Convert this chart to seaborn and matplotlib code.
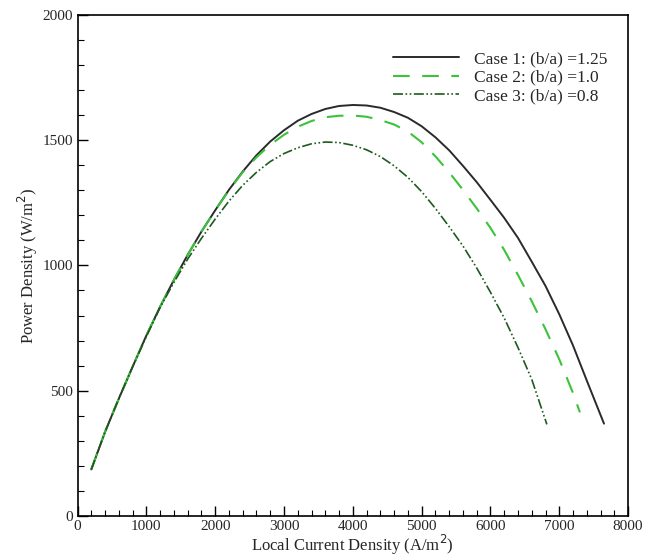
import matplotlib
matplotlib.use("Agg")
import matplotlib.pyplot as plt
import seaborn as sns
from matplotlib.ticker import MultipleLocator

sns.set_theme(style="white")
plt.rcParams['font.family'] = ['Liberation Serif', 'DejaVu Serif']

# Data
x_case1 = [200, 400, 600, 800, 1000, 1200, 1400, 1600, 1800, 2000, 2200, 2400, 2600, 2800,
           3000, 3200, 3400, 3600, 3800, 4000, 4200, 4400, 4600, 4800, 5000, 5200, 5400,
           5600, 5800, 6000, 6200, 6400, 6600, 6800, 7000, 7200, 7400, 7650]
y_case1 = [185, 335, 468, 595, 720, 835, 942, 1042, 1135, 1220, 1302, 1375, 1440, 1495,
           1540, 1578, 1605, 1625, 1637, 1641, 1639, 1630, 1613, 1590, 1556, 1512, 1460,
           1398, 1333, 1262, 1190, 1110, 1015, 918, 805, 680, 540, 368]

x_case2 = [200, 400, 600, 800, 1000, 1200, 1400, 1600, 1800, 2000, 2200, 2400, 2600, 2800,
           3000, 3200, 3400, 3600, 3800, 4000, 4200, 4400, 4600, 4800, 5000, 5200, 5400,
           5600, 5800, 6000, 6200, 6400, 6600, 6800, 7000, 7200, 7300]
y_case2 = [185, 335, 468, 595, 720, 835, 942, 1042, 1135, 1220, 1300, 1372, 1432, 1482,
           1522, 1554, 1577, 1592, 1598, 1599, 1594, 1581, 1563, 1535, 1492, 1436, 1372,
           1302, 1228, 1150, 1062, 962, 857, 745, 625, 490, 413]

x_case3 = [200, 400, 600, 800, 1000, 1200, 1400, 1600, 1800, 2000, 2200, 2400, 2600, 2800,
           3000, 3200, 3400, 3600, 3800, 4000, 4200, 4400, 4600, 4800, 5000, 5200, 5400,
           5600, 5800, 6000, 6200, 6400, 6600, 6820]
y_case3 = [185, 335, 468, 595, 716, 832, 932, 1025, 1108, 1185, 1257, 1320, 1372, 1415,
           1447, 1470, 1486, 1493, 1491, 1480, 1462, 1435, 1398, 1352, 1295, 1228, 1155,
           1078, 990, 893, 790, 672, 545, 365]

labels = ["Case 1: (b/a) =1.25", "Case 2: (b/a) =1.0", "Case 3: (b/a) =0.8"]

fig = plt.figure(figsize=(6.57, 5.60), dpi=100)
ax = fig.add_axes([0.118, 0.079, 0.838, 0.894])

sns.lineplot(x=x_case1, y=y_case1, ax=ax, color="#2a2a2a", lw=1.4, label=labels[0], sort=False)
sns.lineplot(x=x_case2, y=y_case2, ax=ax, color="#3cc23c", lw=1.5, label=labels[1], sort=False)
sns.lineplot(x=x_case3, y=y_case3, ax=ax, color="#1e5a1e", lw=1.2, label=labels[2], sort=False)
ax.lines[1].set_dashes((8, 6))
ax.lines[2].set_dashes((6, 1.5, 1, 1.5, 1, 1.5))

ax.set_xlim(0, 8000)
ax.set_ylim(0, 2000)
ax.xaxis.set_major_locator(MultipleLocator(1000))
ax.xaxis.set_minor_locator(MultipleLocator(200))
ax.yaxis.set_major_locator(MultipleLocator(500))
ax.yaxis.set_minor_locator(MultipleLocator(100))
ax.tick_params(which="major", direction="in", length=7, width=1, color="black",
               labelsize=11, bottom=True, left=True, top=False, right=False, pad=3)
ax.tick_params(which="minor", direction="in", length=4, width=0.8, color="black",
               bottom=True, left=True, top=False, right=False)
for s in ax.spines.values():
    s.set_color("black")
    s.set_linewidth(1.2)

ax.set_xlabel("Local Current Density (A/m$^2$)", fontsize=12, labelpad=0)
ax.set_ylabel("Power Density (W/m$^2$)", fontsize=12, labelpad=2)

leg = ax.legend(loc="upper right", bbox_to_anchor=(0.99, 0.96), frameon=False,
                fontsize=12.5, handlelength=3.8, labelspacing=0.15, handletextpad=0.85)

fig.savefig("out.png", dpi=100)
